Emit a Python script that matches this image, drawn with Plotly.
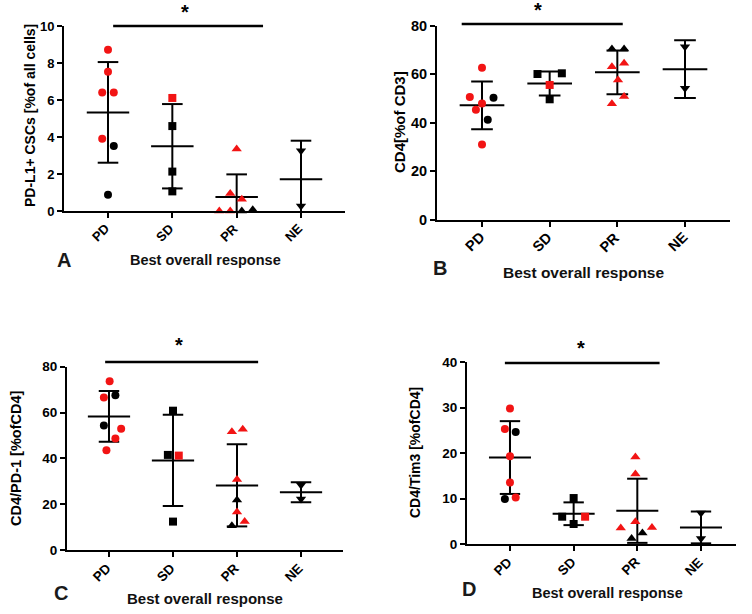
import plotly.graph_objects as go

W, H = 752, 614
categories = ["PD", "SD", "PR", "NE"]
symbols = ["circle", "square", "triangle-up", "triangle-down"]

# ---------------- Panel A: PD-L1+ CSCs ----------------
A_PD = [8.72, 7.53, 6.40, 6.40, 3.91, 3.51, 0.88]
A_PD_red = [1, 1, 1, 1, 1, 0, 0]
A_SD = [6.11, 4.59, 2.13, 1.06]
A_SD_red = [1, 0, 0, 0]
A_PR = [3.35, 0.94, 0.63, 0.0, 0.0, 0.0, 0.07]
A_PR_red = [1, 1, 1, 1, 1, 0, 0]
A_NE = [3.26, 0.27]
A_NE_red = [0, 0]
A_mean = [5.33, 3.50, 0.76, 1.71]
A_sd = [2.72, 2.28, 1.22, 2.09]
A_ticks = [0, 2, 4, 6, 8, 10]

# ---------------- Panel B: CD4 ----------------
B_PD = [62.7, 50.6, 48.0, 45.4, 50.3, 41.3, 31.1]
B_PD_red = [1, 1, 1, 1, 0, 0, 1]
B_SD = [60.1, 60.4, 55.6, 49.7]
B_SD_red = [0, 0, 1, 0]
B_PR = [70.4, 70.4, 63.1, 64.5, 57.6, 47.9, 50.8]
B_PR_red = [0, 0, 1, 1, 1, 1, 1]
B_NE = [71.3, 54.2]
B_NE_red = [0, 0]
B_mean = [47.2, 56.2, 60.8, 62.1]
B_sd = [9.8, 4.9, 9.0, 11.9]
B_ticks = [0, 20, 40, 60, 80]

# ---------------- Panel C: CD4/PD-1 ----------------
C_PD = [73.7, 66.6, 67.5, 54.3, 52.9, 48.7, 43.5]
C_PD_red = [1, 1, 0, 0, 1, 1, 1]
C_SD = [60.8, 41.5, 41.2, 12.4]
C_SD_red = [0, 0, 1, 0]
C_PR = [51.6, 52.7, 30.8, 21.8, 16.6, 12.4, 10.6]
C_PR_red = [1, 1, 1, 0, 1, 1, 0]
C_NE = [28.4, 22.3]
C_NE_red = [0, 0]
C_mean = [58.3, 39.1, 28.2, 25.2]
C_sd = [11.1, 19.9, 17.9, 4.4]
C_ticks = [0, 20, 40, 60, 80]

# ---------------- Panel D: CD4/Tim3 ----------------
D_PD = [29.8, 25.3, 24.6, 19.3, 13.5, 9.9, 10.2]
D_PD_red = [1, 1, 0, 1, 1, 0, 1]
D_SD = [10.1, 6.0, 6.0, 4.4]
D_SD_red = [0, 0, 1, 0]
D_PR = [19.1, 15.4, 4.9, 3.5, 3.6, 1.2, 2.4]
D_PR_red = [1, 1, 1, 1, 1, 0, 0]
D_NE = [6.8, 1.2]
D_NE_red = [0, 0]
D_mean = [19.0, 6.65, 7.3, 3.64]
D_sd = [8.0, 2.5, 7.05, 3.5]
D_ticks = [0, 10, 20, 30, 40]

# horizontal jitter of the dots (category units)
A_jit = [[0, 0, -0.09, 0.09, -0.09, 0.09, 0], [0, 0, 0, 0],
         [0, -0.10, 0.08, -0.27, -0.10, 0.08, 0.25], [0, 0]]
B_jit = [[0, -0.18, 0, -0.09, 0.17, 0.085, 0], [-0.18, 0.18, 0, 0],
         [-0.08, 0.10, -0.08, 0.10, 0.01, -0.08, 0.10], [0, 0]]
C_jit = [[0.01, -0.08, 0.10, -0.08, 0.19, 0.10, -0.04], [0, -0.08, 0.09, 0],
         [-0.08, 0.09, 0, 0, 0, 0.12, -0.08], [0, 0]]
D_jit = [[0, -0.08, 0.09, 0, 0, -0.08, 0.09], [0, -0.18, 0.18, 0],
         [-0.03, -0.03, -0.03, -0.26, 0.23, -0.09, 0.08], [0, 0]]

RED = "#f21414"
FONT = "Liberation Sans"


def px(x):
    return x / W


def py(y):
    return 1 - y / H


panels = [
    dict(key="", groups=[(A_PD, A_PD_red), (A_SD, A_SD_red), (A_PR, A_PR_red), (A_NE, A_NE_red)],
         mean=A_mean, sd=A_sd, jit=A_jit, yr=[0, 10], yt=A_ticks,
         xd=[px(64), px(345)], ybot=211, ytop=26, xr=[-0.684, 3.684],
         ytitle="PD-L1+ CSCs [%of all cells]", ytx=30, yty=116, fs=13, tfs=14,
         letter="A", lx=64, ly=260, bx=205, by=260,
         sig=[0.08, 2.41], sigy=26, astx=1.2, asty=12),
    dict(key="2", groups=[(B_PD, B_PD_red), (B_SD, B_SD_red), (B_PR, B_PR_red), (B_NE, B_NE_red)],
         mean=B_mean, sd=B_sd, jit=B_jit, yr=[0, 80], yt=B_ticks,
         xd=[px(437), px(730)], ybot=220, ytop=25.7, xr=[-0.665, 3.665],
         ytitle="CD4[%of CD3]", ytx=400, yty=122, fs=14.5, tfs=15,
         letter="B", lx=440, ly=268, bx=583, by=272,
         sig=[-0.30, 2.08], sigy=24, astx=0.83, asty=10),
    dict(key="3", groups=[(C_PD, C_PD_red), (C_SD, C_SD_red), (C_PR, C_PR_red), (C_NE, C_NE_red)],
         mean=C_mean, sd=C_sd, jit=C_jit, yr=[0, 80], yt=C_ticks,
         xd=[px(67), px(343)], ybot=550, ytop=366.7, xr=[-0.656, 3.656],
         ytitle="CD4/PD-1 [%ofCD4]", ytx=16, yty=458, fs=13.5, tfs=14.5,
         letter="C", lx=61, ly=593, bx=205, by=598,
         sig=[-0.06, 2.33], sigy=362, astx=1.09, asty=345),
    dict(key="4", groups=[(D_PD, D_PD_red), (D_SD, D_SD_red), (D_PR, D_PR_red), (D_NE, D_NE_red)],
         mean=D_mean, sd=D_sd, jit=D_jit, yr=[0, 40], yt=D_ticks,
         xd=[px(467), px(736)], ybot=544, ytop=362, xr=[-0.675, 3.55],
         ytitle="CD4/Tim3 [%ofCD4]", ytx=415, yty=453, fs=13.5, tfs=14,
         letter="D", lx=469, ly=589, bx=607, by=593,
         sig=[-0.08, 2.35], sigy=363, astx=1.11, asty=348),
]

fig = go.Figure()
shapes, annotations = [], []

for p in panels:
    xa, ya = "x" + p["key"], "y" + p["key"]
    # error bars: mean line, SD line and caps
    ex, ey = [], []
    for i, (m, s) in enumerate(zip(p["mean"], p["sd"])):
        ex += [i - 0.33, i + 0.33, None, i, i, None,
               i - 0.16, i + 0.16, None, i - 0.16, i + 0.16, None]
        ey += [m, m, None, m - s, m + s, None,
               m + s, m + s, None, m - s, m - s, None]
    fig.add_trace(go.Scatter(x=ex, y=ey, mode="lines", xaxis=xa, yaxis=ya,
                             line=dict(color="black", width=2), hoverinfo="skip"))
    # points
    for gi, (vals, red) in enumerate(p["groups"]):
        xs = [gi + j for j in p["jit"][gi]]
        cols = [RED if r else "black" for r in red]
        fig.add_trace(go.Scatter(x=xs, y=vals, mode="markers", xaxis=xa, yaxis=ya,
                                 cliponaxis=False,
                                 marker=dict(symbol=symbols[gi], size=9 if gi >= 2 else 8,
                                             color=cols, line=dict(width=0))))
    # slanted category labels (centred on their reference position)
    for i, c in enumerate(categories):
        annotations.append(dict(xref=xa, yref="paper", x=i - 0.11, y=py(p["ybot"] + 22),
                                text="<b>" + c + "</b>", textangle=-45, showarrow=False,
                                xanchor="center", yanchor="middle",
                                font=dict(family=FONT, size=p["fs"], color="black")))
    # significance bar
    shapes.append(dict(type="line", xref=xa, yref="paper", x0=p["sig"][0], x1=p["sig"][1],
                       y0=py(p["sigy"]), y1=py(p["sigy"]), line=dict(color="black", width=2.5)))
    annotations.append(dict(xref=xa, yref="paper", x=p["astx"], y=py(p["asty"]), text="<b>*</b>",
                            showarrow=False, xanchor="center", yanchor="middle",
                            font=dict(family=FONT, size=20, color="black")))
    # y title
    annotations.append(dict(xref="paper", yref="paper", x=px(p["ytx"]), y=py(p["yty"]),
                            text="<b>" + p["ytitle"] + "</b>", textangle=-90, showarrow=False,
                            xanchor="center", yanchor="middle",
                            font=dict(family=FONT, size=p["tfs"], color="black")))
    # x title
    annotations.append(dict(xref="paper", yref="paper", x=px(p["bx"]), y=py(p["by"]),
                            text="<b>Best overall response</b>", showarrow=False,
                            xanchor="center", yanchor="middle",
                            font=dict(family=FONT, size=p["tfs"] + 0.5, color="#111111")))
    # panel letter
    annotations.append(dict(xref="paper", yref="paper", x=px(p["lx"]), y=py(p["ly"]),
                            text="<b>" + p["letter"] + "</b>", showarrow=False,
                            xanchor="center", yanchor="middle",
                            font=dict(family=FONT, size=20, color="#1a1a1a")))

fig.update_layout(width=W, height=H, margin=dict(l=0, r=0, t=0, b=0),
                  paper_bgcolor="white", plot_bgcolor="white", showlegend=False,
                  shapes=shapes, annotations=annotations)

for p in panels:
    xa, ya = "x" + p["key"], "y" + p["key"]
    axfont = dict(family=FONT, size=p["fs"], color="black")
    fig.update_layout(**{
        "xaxis" + p["key"]: dict(
            domain=p["xd"], range=p["xr"], anchor=ya, tickmode="array",
            tickvals=list(range(len(categories))), showticklabels=False,
            ticks="outside", ticklen=5, tickwidth=2, tickcolor="black",
            showline=True, linewidth=2, linecolor="black", showgrid=False, zeroline=False,
            fixedrange=True, automargin=False),
        "yaxis" + p["key"]: dict(
            domain=[py(p["ybot"]), py(p["ytop"])], range=p["yr"], anchor=xa, tickmode="array",
            tickvals=p["yt"], ticktext=["<b>" + str(v) + "</b>" for v in p["yt"]],
            ticks="outside", ticklen=5, tickwidth=2, tickcolor="black",
            showline=True, linewidth=2, linecolor="black", showgrid=False, zeroline=False,
            tickfont=axfont, fixedrange=True, automargin=False),
    })

fig.write_html("out.html", config={"displayModeBar": False},
               post_script="document.body.style.margin='0px';")
